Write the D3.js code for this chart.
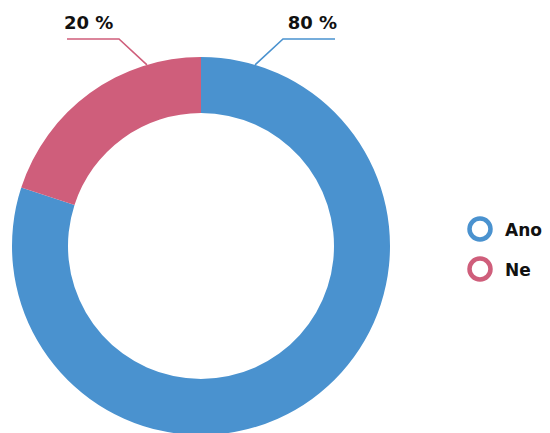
<!DOCTYPE html>
<html><head><meta charset="utf-8">
<script src="https://cdn.jsdelivr.net/npm/d3@7"></script>
<style>body{margin:0;background:#fff}svg{display:block}</style>
</head><body>
<script>
const categories = ["Ano", "Ne"];
const values = [80, 20];
const labels = ["80 %", "20 %"];
const colors = ["#4A92CF", "#CF5E7B"];

const W = 550, H = 433;
const cx = 201, cy = 246, R = 189, r = 133;
const svg = d3.select("body").append("svg").attr("width", W).attr("height", H);
const g = svg.append("g").attr("transform", `translate(${cx},${cy})`);

const pie = d3.pie().sort(null).value(d => d)(values);
const arc = d3.arc().innerRadius(r).outerRadius(R);
g.selectAll("path.slice").data(pie).enter().append("path")
  .attr("d", arc).attr("fill", (d, i) => colors[i]);

const font = "'DejaVu Sans', sans-serif";
// leader lines: anchored on outer edge near the top boundary of each slice
const off = 0.29;
pie.forEach((d, i) => {
  const a = i === 0 ? d.startAngle + off : d.endAngle - off;
  const px = Math.sin(a) * R, py = -Math.cos(a) * R;
  const ky = 39 - cy;
  const dir = Math.sin(a) >= 0 ? 1 : -1;
  const elbowX = px + dir * Math.abs(py - ky) * 1.08;
  const endX = elbowX + dir * 52;
  g.append("polyline")
    .attr("points", `${px},${py} ${elbowX},${ky} ${endX},${ky}`)
    .attr("fill", "none").attr("stroke", colors[i]).attr("stroke-width", 1.6);
  g.append("text").attr("x", endX + (dir > 0 ? 2 : -3)).attr("y", ky - 10)
    .attr("text-anchor", dir > 0 ? "end" : "start")
    .attr("font-family", font).attr("font-weight", "bold").attr("font-size", 18)
    .attr("fill", "#111").text(labels[i]);
});

// legend
const lg = svg.append("g").attr("transform", "translate(480,229)");
categories.forEach((c, i) => {
  const row = lg.append("g").attr("transform", `translate(0,${i * 40})`);
  row.append("circle").attr("r", 10.5).attr("fill", "#fff")
    .attr("stroke", colors[i]).attr("stroke-width", 4.5);
  row.append("text").attr("x", 25).attr("y", 6.5)
    .attr("font-family", font).attr("font-weight", "bold").attr("font-size", 17)
    .attr("fill", "#111").text(c);
});
</script>
</body></html>
